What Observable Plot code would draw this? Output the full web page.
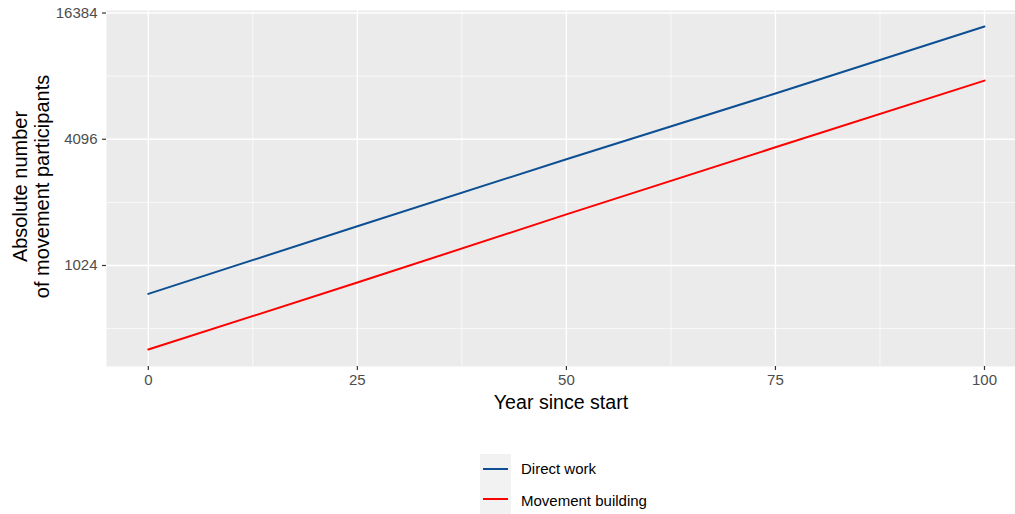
<!DOCTYPE html>
<html>
<head>
<meta charset="utf-8">
<script src="https://cdn.jsdelivr.net/npm/d3@7"></script>
<script src="https://cdn.jsdelivr.net/npm/@observablehq/plot@0.6"></script>
<style>
  html, body { margin: 0; padding: 0; background: #ffffff; }
  #wrap { position: relative; width: 1015px; height: 514px; overflow: hidden; background: #fff;
          font-family: "Liberation Sans", Arial, sans-serif; }
  #legend { position: absolute; left: 480px; top: 454px; width: 200px; height: 60px; }
  .key { position: absolute; left: 0; width: 31px; height: 30px; background: #f2f2f2; }
  .keyline { position: absolute; left: 3px; width: 25px; height: 2px; }
  .lab { position: absolute; left: 41px; font-size: 15px; color: #000; line-height: 18px; }
</style>
</head>
<body>
<div id="wrap">
  <div id="chart"></div>
  <div id="legend"></div>
</div>
<script>
const years = [0, 25, 50, 75, 100];
const directWork = [750, 1575, 3290, 6770, 14130];
const movementBuilding = [407, 849, 1795, 3750, 7800];
const seriesNames = ["Direct work", "Movement building"];
const seriesColors = ["#0d4f93", "#ff0000"];
const xTicks = [0, 25, 50, 75, 100];
const xMinor = [12.5, 37.5, 62.5, 87.5];
const yTicks = [1024, 4096, 16384];
const yMinor = [512, 2048, 8192];
const xTitle = "Year since start";
const yTitle = ["Absolute number", "of movement participants"];

const data = [];
years.forEach((yr, i) => {
  data.push({year: yr, value: directWork[i], series: seriesNames[0]});
  data.push({year: yr, value: movementBuilding[i], series: seriesNames[1]});
});

const chart = Plot.plot({
  width: 1015,
  height: 420,
  marginLeft: 106,
  marginRight: 0,
  marginTop: 10,
  marginBottom: 54,
  style: {fontFamily: "Liberation Sans, Arial, sans-serif", background: "transparent"},
  x: {domain: [-5, 103.71]},
  y: {type: "log", base: 2, domain: [Math.pow(2, 8.40), Math.pow(2, 14.04)]},
  color: {domain: seriesNames, range: seriesColors},
  marks: [
    Plot.frame({fill: "#ebebeb", stroke: null}),
    Plot.ruleX(xMinor, {stroke: "#ffffff", strokeWidth: 0.7}),
    Plot.ruleY(yMinor, {stroke: "#ffffff", strokeWidth: 0.7}),
    Plot.ruleX(xTicks, {stroke: "#ffffff", strokeWidth: 1.4}),
    Plot.ruleY(yTicks, {stroke: "#ffffff", strokeWidth: 1.4}),
    Plot.line(data, {x: "year", y: "value", z: "series", stroke: "series", strokeWidth: 2}),
    Plot.axisX(xTicks, {tickSize: 4, stroke: "#333333", strokeWidth: 1.2, fill: "#4d4d4d",
      fontSize: 15, tickPadding: 4, label: null}),
    Plot.axisY(yTicks, {tickSize: 4, stroke: "#333333", strokeWidth: 1.2, fill: "#4d4d4d",
      fontSize: 15, tickPadding: 5, tickFormat: d => String(d), label: null}),
    Plot.text([xTitle], {frameAnchor: "bottom", dy: 42, fontSize: 19.6, fill: "#000"}),
    Plot.text([yTitle[0]], {frameAnchor: "left", dx: -86, dy: -2, rotate: -90, textAnchor: "middle", fontSize: 20, fill: "#000"}),
    Plot.text([yTitle[1]], {frameAnchor: "left", dx: -64, dy: -2, rotate: -90, textAnchor: "middle", fontSize: 20, fill: "#000"})
  ]
});
document.getElementById("chart").appendChild(chart);

const legend = document.getElementById("legend");
seriesNames.forEach((name, i) => {
  const key = document.createElement("div");
  key.className = "key";
  key.style.top = (i * 30) + "px";
  const ln = document.createElement("div");
  ln.className = "keyline";
  ln.style.top = "14px";
  ln.style.background = seriesColors[i];
  key.appendChild(ln);
  legend.appendChild(key);
  const lab = document.createElement("div");
  lab.className = "lab";
  lab.style.top = (i * 32 + 6) + "px";
  lab.textContent = name;
  legend.appendChild(lab);
});
</script>
</body>
</html>
